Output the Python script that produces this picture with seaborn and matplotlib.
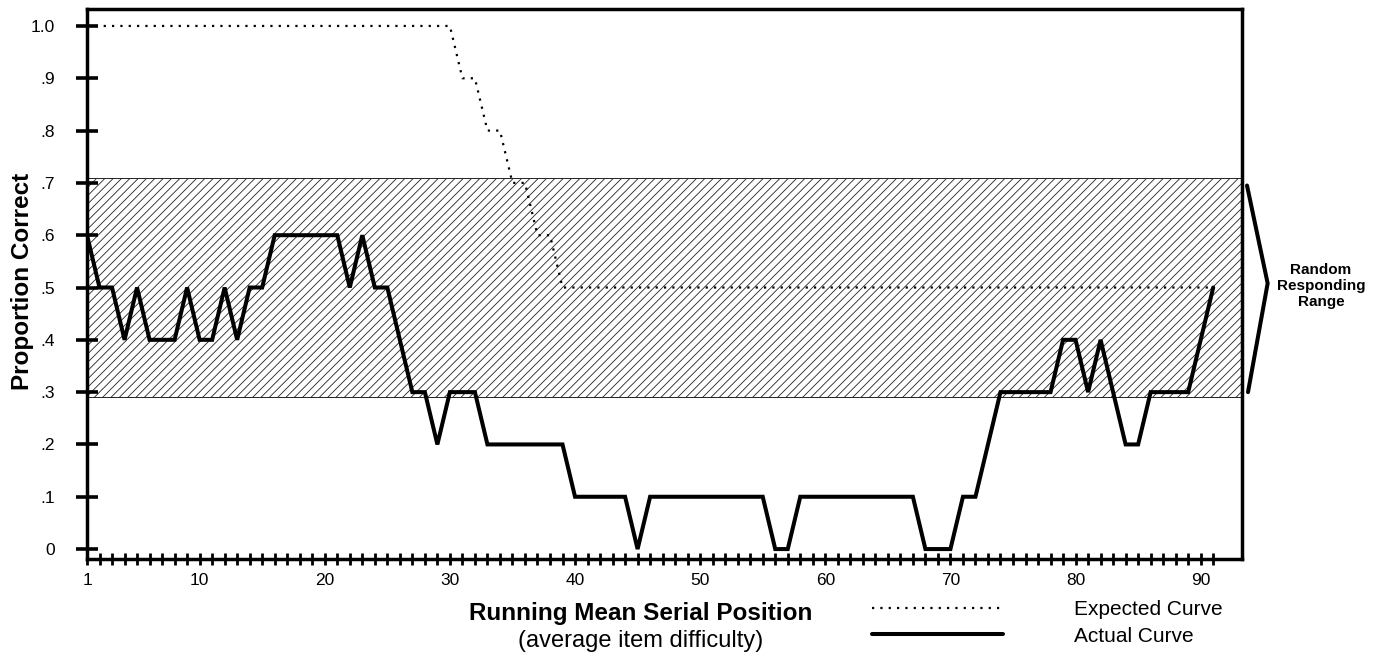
import matplotlib
matplotlib.use("Agg")
import matplotlib.pyplot as plt
from matplotlib.ticker import FixedLocator
import seaborn as sns

# running mean serial position 1..91
positions = list(range(1, 92))

expected = [1.0, 1.0, 1.0, 1.0, 1.0, 1.0, 1.0, 1.0, 1.0, 1.0,
            1.0, 1.0, 1.0, 1.0, 1.0, 1.0, 1.0, 1.0, 1.0, 1.0,
            1.0, 1.0, 1.0, 1.0, 1.0, 1.0, 1.0, 1.0, 1.0, 1.0,
            0.9, 0.9, 0.8, 0.8, 0.7, 0.7, 0.6, 0.6, 0.5, 0.5,
            0.5, 0.5, 0.5, 0.5, 0.5, 0.5, 0.5, 0.5, 0.5, 0.5,
            0.5, 0.5, 0.5, 0.5, 0.5, 0.5, 0.5, 0.5, 0.5, 0.5,
            0.5, 0.5, 0.5, 0.5, 0.5, 0.5, 0.5, 0.5, 0.5, 0.5,
            0.5, 0.5, 0.5, 0.5, 0.5, 0.5, 0.5, 0.5, 0.5, 0.5,
            0.5, 0.5, 0.5, 0.5, 0.5, 0.5, 0.5, 0.5, 0.5, 0.5,
            0.5]

actual = [0.6, 0.5, 0.5, 0.4, 0.5, 0.4, 0.4, 0.4, 0.5, 0.4,
          0.4, 0.5, 0.4, 0.5, 0.5, 0.6, 0.6, 0.6, 0.6, 0.6,
          0.6, 0.5, 0.6, 0.5, 0.5, 0.4, 0.3, 0.3, 0.2, 0.3,
          0.3, 0.3, 0.2, 0.2, 0.2, 0.2, 0.2, 0.2, 0.2, 0.1,
          0.1, 0.1, 0.1, 0.1, 0.0, 0.1, 0.1, 0.1, 0.1, 0.1,
          0.1, 0.1, 0.1, 0.1, 0.1, 0.0, 0.0, 0.1, 0.1, 0.1,
          0.1, 0.1, 0.1, 0.1, 0.1, 0.1, 0.1, 0.0, 0.0, 0.0,
          0.1, 0.1, 0.2, 0.3, 0.3, 0.3, 0.3, 0.3, 0.4, 0.4,
          0.3, 0.4, 0.3, 0.2, 0.2, 0.3, 0.3, 0.3, 0.3, 0.4,
          0.5]

random_range = (0.29, 0.71)

x_major = [1, 10, 20, 30, 40, 50, 60, 70, 80, 90]
y_ticks = [0.0, 0.1, 0.2, 0.3, 0.4, 0.5, 0.6, 0.7, 0.8, 0.9, 1.0]
y_labels = ["0", ".1", ".2", ".3", ".4", ".5", ".6", ".7", ".8", ".9", "1.0"]

sns.set_style("ticks")
plt.rcParams["font.family"] = ["Liberation Sans", "DejaVu Sans"]
plt.rcParams["hatch.linewidth"] = 0.6
plt.rcParams["text.color"] = "black"
plt.rcParams["axes.labelcolor"] = "black"

W, H = 1382, 656
fig = plt.figure(figsize=(W / 100, H / 100), dpi=100)
ax = fig.add_axes([87 / W, 1 - 559 / H, 1155 / W, 550.3 / H])

# shaded random responding band
ax.axhspan(random_range[0], random_range[1], facecolor="white",
           edgecolor="#222222", hatch="////", linewidth=0.7, zorder=0)

sns.lineplot(x=positions, y=expected, ax=ax, color="black", linewidth=1.6,
             linestyle=(0, (1, 2.75)), label="Expected Curve", zorder=3)
sns.lineplot(x=positions, y=actual, ax=ax, color="black", linewidth=2.9,
             solid_joinstyle="miter", label="Actual Curve", zorder=4)

ax.set_xlim(1, 93.3)
ax.set_ylim(-0.019, 1.033)

for sp in ax.spines.values():
    sp.set_visible(True)
    sp.set_linewidth(2.5)
    sp.set_color("black")

ax.xaxis.set_major_locator(FixedLocator(x_major))
ax.xaxis.set_minor_locator(FixedLocator(positions))
ax.set_xticklabels([str(v) for v in x_major])
ax.set_yticks(y_ticks)
ax.set_yticklabels(y_labels)
ax.tick_params(axis="y", direction="inout", length=16.5, width=2.6,
               pad=14.7, labelsize=12.5, colors="black")
ax.tick_params(axis="x", which="both", direction="inout", length=8.6,
               width=2.0, pad=5.7, labelsize=12.5, colors="black")

ax.set_ylabel("Proportion Correct", fontsize=17.5, fontweight="bold", va="center")
ax.yaxis.set_label_coords(-0.056, 0.504)
ax.set_xlabel("")
ax.text(0.479, -0.1108, "Running Mean Serial Position", transform=ax.transAxes,
        ha="center", va="baseline", fontsize=17.5, fontweight="bold")
ax.text(0.479, -0.16, "(average item difficulty)", transform=ax.transAxes,
        ha="center", va="baseline", fontsize=17)

# bracket for the random responding range
ax.plot([93.7, 95.35, 93.78], [0.695, 0.508, 0.30], color="black",
        linewidth=2.9, solid_joinstyle="miter", clip_on=False)
ax.text(99.6, 0.503, "Random\nResponding\nRange", ha="center", va="center",
        fontsize=11, fontweight="bold", linespacing=1.15)

ax.legend(loc="center left", bbox_to_anchor=(872 / W, 1 - 623 / H),
          bbox_transform=fig.transFigure, frameon=False, fontsize=15,
          handlelength=6.3, handletextpad=3.4, labelspacing=0.35,
          borderpad=0, borderaxespad=0)

fig.savefig("out.png", dpi=100)
